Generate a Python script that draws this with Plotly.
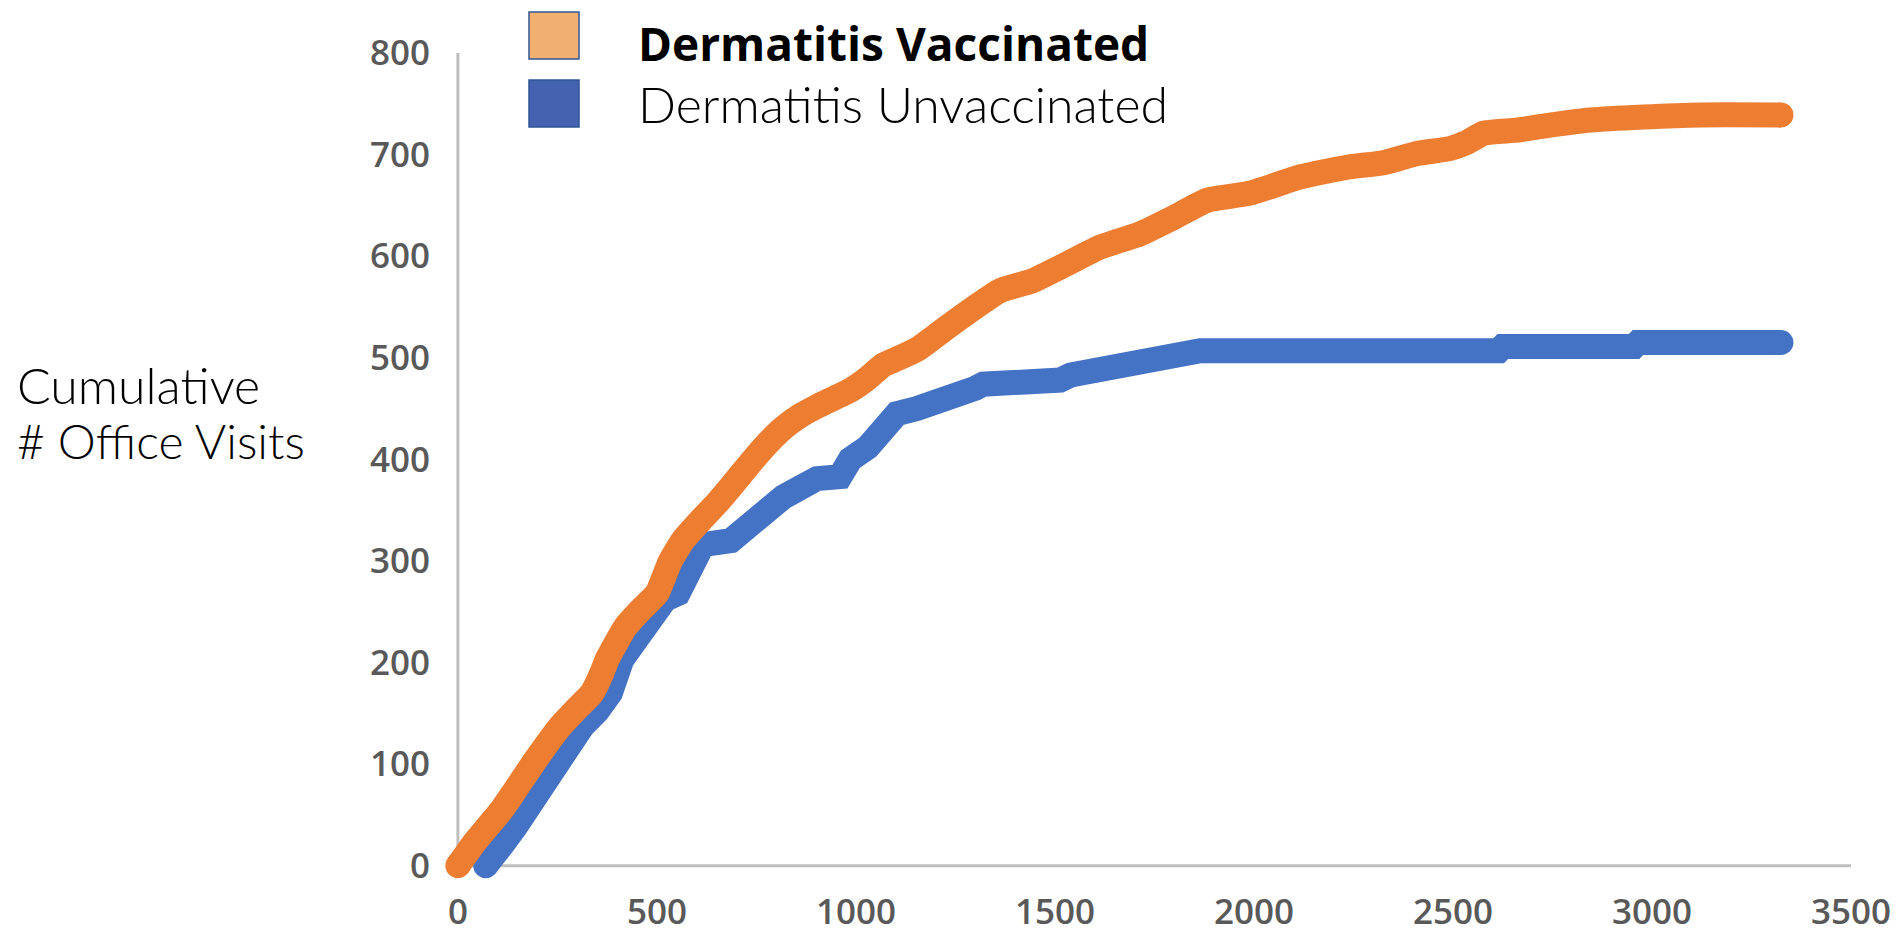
import plotly.graph_objects as go

# ---- data ----
vacc_days = [0, 11, 40, 74, 110, 140, 195, 257, 300, 337, 362, 375, 421, 460, 500, 534,
             567, 610, 651, 690, 734, 776, 818, 860, 902, 944, 986, 1030, 1069, 1110,
             1153, 1195, 1236, 1300, 1362, 1445, 1513, 1614, 1714, 1798, 1882, 1990,
             2116, 2241, 2325, 2410, 2493, 2535, 2577, 2661, 2744, 2845, 2978, 3121, 3324]
vacc_visits = [0, 6, 22, 38, 55, 72, 104, 137, 155, 170, 190, 203, 235, 252, 268, 300,
               321, 340, 357, 375, 396, 415, 431, 443, 452, 460, 468, 480, 493, 500,
               508, 520, 532, 550, 566, 576, 589, 609, 622, 638, 655, 662,
               678, 688, 692, 701, 706, 712, 721, 724, 729, 734, 737, 739, 739]

unvacc_days = [70, 77, 110, 144, 202, 249, 280, 312, 350, 383, 412, 440, 479, 520, 553,
               597, 615, 686, 734, 776, 818, 860, 902, 960, 986, 1030, 1069, 1103, 1153,
               1194, 1236, 1262, 1300, 1320, 1500, 1513, 1540, 1613, 1680, 1700, 1764,
               1850, 1865, 2615, 2625, 2955, 2965, 3324]
unvacc_visits = [0, 6, 20, 38, 72, 104, 118, 137, 152, 170, 203, 220, 235, 262, 268,
                 301, 316, 320, 337, 350, 363, 372, 381, 383, 400, 412, 426, 445, 450,
                 455, 456, 461, 470, 474, 475, 478, 483, 488, 491, 494, 500,
                 503, 507, 507, 511, 511, 515, 515]

x_ticks = [0, 500, 1000, 1500, 2000, 2500, 3000, 3500]
y_ticks = [0, 100, 200, 300, 400, 500, 600, 700, 800]

series_names = ["Dermatitis Vaccinated", "Dermatitis Unvaccinated"]
y_title_lines = ["Cumulative", "# Office Visits"]

ORANGE = "#ED7D31"
BLUE = "#4472C4"
AXIS = "#BFBFBF"
TICK = "#595959"
LW = 25

W, H = 1898, 936
L, R, T, B = 438, 47, 53, 48
PW, PH = W - L - R, H - T - B


def px_x(px):
    return (px - L) / PW


def px_y(py):
    return (H - B - py) / PH


fig = go.Figure()

for xs, ys, col, name, shp in [(unvacc_days, unvacc_visits, BLUE, series_names[1], "linear"),
                               (vacc_days, vacc_visits, ORANGE, series_names[0], "spline")]:
    fig.add_trace(go.Scatter(x=xs, y=ys, mode="lines", name=name,
                             line=dict(color=col, width=LW, shape=shp, smoothing=0.5),
                             showlegend=False))
    fig.add_trace(go.Scatter(x=[xs[0], xs[-1]], y=[ys[0], ys[-1]], mode="markers",
                             marker=dict(color=col, size=LW, line=dict(width=0)),
                             showlegend=False, hoverinfo="skip", cliponaxis=False))

tick_font = dict(family="Open Sans", size=35, color=TICK, weight=600)

fig.update_xaxes(range=[-50, 3500], tickvals=x_ticks, ticktext=[str(v) for v in x_ticks],
                 showgrid=False, zeroline=False, showline=False, ticks="",
                 tickfont=tick_font, ticklabelstandoff=0, automargin=False)
fig.update_yaxes(range=[-22, 800], tickvals=y_ticks, ticktext=[str(v) for v in y_ticks],
                 showgrid=False, zeroline=False, showline=False, ticks="",
                 tickfont=tick_font, ticklabelstandoff=7, automargin=False)

shapes = [
    # axis lines at 0
    dict(type="line", xref="x", yref="y", x0=x_ticks[0], x1=x_ticks[-1], y0=0, y1=0,
         line=dict(color=AXIS, width=3), layer="below"),
    dict(type="line", xref="x", yref="y", x0=0, x1=0, y0=y_ticks[0], y1=y_ticks[-1],
         line=dict(color=AXIS, width=3), layer="below"),
    # legend swatches
    dict(type="rect", xref="paper", yref="paper", x0=px_x(529), x1=px_x(579),
         y0=px_y(59), y1=px_y(12), fillcolor="#F0B070", line=dict(color="#2F5597", width=1.5)),
    dict(type="rect", xref="paper", yref="paper", x0=px_x(529), x1=px_x(579),
         y0=px_y(127), y1=px_y(80), fillcolor="#4462B0", line=dict(color="#2F5597", width=1.5)),
]

annotations = [
    dict(text="<b>" + series_names[0] + "</b>", xref="paper", yref="paper",
         x=px_x(636), y=px_y(43), xanchor="left", yanchor="middle", showarrow=False,
         font=dict(family="Open Sans", size=46, color="#000000")),
    dict(text=series_names[1], xref="paper", yref="paper",
         x=px_x(636), y=px_y(104), xanchor="left", yanchor="middle", showarrow=False,
         font=dict(family="Lato", size=50, color="#000000", weight=300)),
    dict(text=y_title_lines[0], xref="paper", yref="paper",
         x=px_x(15), y=px_y(385), xanchor="left", yanchor="middle", showarrow=False,
         font=dict(family="Lato", size=50, color="#000000", weight=300)),
    dict(text=y_title_lines[1], xref="paper", yref="paper",
         x=px_x(15), y=px_y(441), xanchor="left", yanchor="middle", showarrow=False,
         font=dict(family="Lato", size=48, color="#000000", weight=300)),
]

fig.update_layout(width=W, height=H, margin=dict(l=L, r=R, t=T, b=B, autoexpand=False),
                  plot_bgcolor="white", paper_bgcolor="white",
                  shapes=shapes, annotations=annotations, showlegend=False)

fig.write_html("out.html", config={"displayModeBar": False},
               post_script="document.body.style.margin='0';document.body.style.overflow='hidden';")
